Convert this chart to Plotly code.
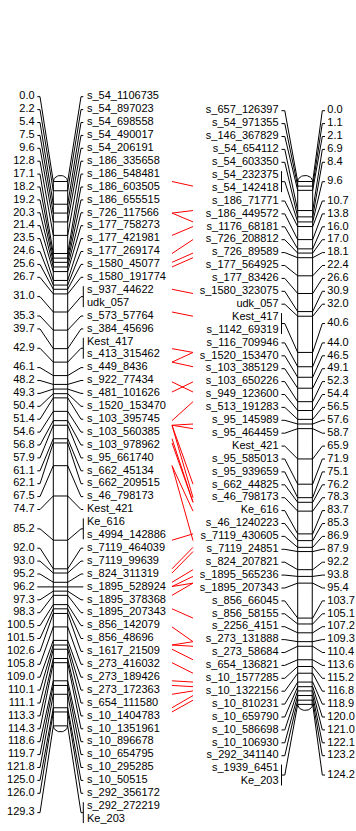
import math
import plotly.graph_objects as go

# ---- linkage group A (drawn on the left) ----
left_pos = [0.0, 2.2, 5.4, 7.5, 9.6, 12.8, 17.1, 18.2, 19.2, 20.3, 21.4, 23.5, 24.6,
            25.6, 26.7, 31.0, 35.3, 39.7, 42.9, 46.1, 48.2, 49.3, 50.4, 51.4, 54.6,
            56.8, 57.9, 61.1, 62.1, 67.5, 74.7, 85.2, 92.0, 93.0, 95.2, 96.2, 97.3,
            98.3, 100.5, 101.5, 102.6, 105.8, 109.0, 110.1, 111.1, 113.3, 114.3,
            118.6, 119.7, 121.8, 125.0, 126.0, 129.3]
left_markers = [
    ["s_54_1106735"], ["s_54_897023"], ["s_54_698558"], ["s_54_490017"],
    ["s_54_206191"], ["s_186_335658"], ["s_186_548481"], ["s_186_603505"],
    ["s_186_655515"], ["s_726_117566"], ["s_177_758273"], ["s_177_421981"],
    ["s_177_269174"], ["s_1580_45077"], ["s_1580_191774"],
    ["s_937_44622", "udk_057"], ["s_573_57764"], ["s_384_45696"],
    ["Kest_417", "s_413_315462"], ["s_449_8436"], ["s_922_77434"],
    ["s_481_101626"], ["s_1520_153470"], ["s_103_395745"], ["s_103_560385"],
    ["s_103_978962"], ["s_95_661740"], ["s_662_45134"], ["s_662_209515"],
    ["s_46_798173"], ["Kest_421"], ["Ke_616", "s_4994_142886"],
    ["s_7119_464039"], ["s_7119_99639"], ["s_824_311319"], ["s_1895_528924"],
    ["s_1895_378368"], ["s_1895_207343"], ["s_856_142079"], ["s_856_48696"],
    ["s_1617_21509"], ["s_273_416032"], ["s_273_189426"], ["s_273_172363"],
    ["s_654_111580"], ["s_10_1404783"], ["s_10_1351961"], ["s_10_896678"],
    ["s_10_654795"], ["s_10_295285"], ["s_10_50515"], ["s_292_356172"],
    ["s_292_272219", "Ke_203"],
]

# ---- linkage group B (drawn on the right) ----
right_pos = [0.0, 1.1, 2.1, 6.9, 8.4, 9.6, 10.7, 13.8, 16.0, 17.0, 18.1, 22.4, 26.6,
             30.9, 32.0, 40.6, 44.0, 46.5, 49.1, 52.3, 54.4, 56.5, 57.6, 58.7, 65.9,
             71.9, 75.1, 76.2, 78.3, 83.7, 85.3, 86.9, 87.9, 92.2, 93.8, 95.4, 103.7,
             105.1, 107.2, 109.3, 110.4, 113.6, 115.2, 116.8, 118.9, 120.0, 121.0,
             122.1, 123.2, 124.2]
right_markers = [
    ["s_657_126397"], ["s_54_971355"], ["s_146_367829"], ["s_54_654112"],
    ["s_54_603350"], ["s_54_232375", "s_54_142418"], ["s_186_71771"],
    ["s_186_449572"], ["s_1176_68181"], ["s_726_208812"], ["s_726_89589"],
    ["s_177_564925"], ["s_177_83426"], ["s_1580_323075"], ["udk_057"],
    ["Kest_417", "s_1142_69319"], ["s_116_709946"], ["s_1520_153470"],
    ["s_103_385129"], ["s_103_650226"], ["s_949_123600"], ["s_513_191283"],
    ["s_95_145989"], ["s_95_464459"], ["Kest_421"], ["s_95_585013"],
    ["s_95_939659"], ["s_662_44825"], ["s_46_798173"], ["Ke_616"],
    ["s_46_1240223"], ["s_7119_430605"], ["s_7119_24851"], ["s_824_207821"],
    ["s_1895_565236"], ["s_1895_207343"], ["s_856_66045"], ["s_856_58155"],
    ["s_2256_4151"], ["s_273_131888"], ["s_273_58684"], ["s_654_136821"],
    ["s_10_1577285"], ["s_10_1322156"], ["s_10_810231"], ["s_10_659790"],
    ["s_10_586698"], ["s_10_106930"], ["s_292_341140"],
    ["s_1939_6451", "Ke_203"],
]

# ---- homology links between the two groups (cM on A, cM on B) ----
link_left_cm = [0.0, 7.5, 7.5, 12.8, 17.1, 19.2, 20.3, 25.6, 31.0, 39.7, 42.9, 42.9,
                47.6, 50.0, 56.8, 57.9, 57.9, 57.9, 57.9, 61.1, 62.1, 67.5, 67.5,
                85.2, 92.0, 93.0, 95.2, 96.2, 96.2, 98.3, 101.5, 105.8, 110.1, 110.1,
                111.1, 114.3, 118.6, 119.7, 121.8, 125.0, 126.0]
link_right_cm = [1.1, 6.9, 9.6, 10.7, 13.8, 17.0, 18.1, 26.6, 32.0, 40.6, 40.6, 44.0,
                 50.0, 47.6, 52.3, 57.6, 58.7, 71.9, 75.1, 76.2, 76.2, 78.3, 85.3,
                 83.7, 86.9, 87.9, 92.2, 93.8, 95.4, 95.4, 103.7, 109.3, 109.3, 110.4,
                 113.6, 116.8, 118.9, 120.0, 121.0, 122.1, 123.2]

# ---- page geometry ----
W, H = 356, 831
PX_PER_CM = 4.21        # vertical scale shared by both groups
ZERO_PX = 181.5         # page row of 0 cM
ROW_PX = 12.9           # spacing of stacked labels
CAP_PX = 6.0            # height of the rounded chromosome ends
BRACKET_PX = 4.0

FONT = dict(family="Liberation Sans, Arial, Helvetica, sans-serif", size=11, color="black")


def cm(px):
    """Convert a page row to the cM axis."""
    return (px - ZERO_PX) / PX_PER_CM


def label_rows(markers, first_px):
    rows, k = [], 0
    for names in markers:
        rows.append([cm(first_px + (k + j) * ROW_PX) for j in range(len(names))])
        k += len(names)
    return rows


def chrom_outline(x0, x1, top, bot):
    xc, hw, cap = (x0 + x1) / 2, (x1 - x0) / 2, CAP_PX / PX_PER_CM
    xs, ys = [], []
    n = 24
    for i in range(n + 1):
        t = math.pi - math.pi * i / n
        xs.append(xc + hw * math.cos(t))
        ys.append(top - cap * math.sin(t))
    for i in range(n + 1):
        t = math.pi * i / n
        xs.append(xc + hw * math.cos(t))
        ys.append(bot + cap * math.sin(t))
    xs.append(xs[0])
    ys.append(ys[0])
    return xs, ys


fig = go.Figure()


def draw_group(pos, markers, first_px, x0, x1, names_on_right, sides):
    """sides: text x, outer tick x and inner tick x for the 'pos' and 'name' sides."""
    rows = label_rows(markers, first_px)
    cx, cy = chrom_outline(x0, x1, 0.0, pos[-1])
    fig.add_trace(go.Scatter(x=cx, y=cy, mode="lines", fill="toself", fillcolor="white",
                             line=dict(color="black", width=1), hoverinfo="skip"))
    lx, ly = [], []
    ps, ns = sides["pos"], sides["name"]
    left_side = ps if names_on_right else ns
    right_side = ns if names_on_right else ps
    for p, r in zip(pos, rows):
        m = sum(r) / len(r)
        lx += [left_side["outer"], left_side["inner"], x0, x1,
               right_side["inner"], right_side["outer"], None]
        ly += [m, m, p, p, m, m, None]
        if len(r) > 1:
            b = BRACKET_PX / PX_PER_CM
            lx += [ns["outer"], ns["outer"], None]
            ly += [r[0] - b, r[-1] + b, None]
    fig.add_trace(go.Scatter(x=lx, y=ly, mode="lines", line=dict(color="black", width=1),
                             hoverinfo="skip"))
    # cM labels
    fig.add_trace(go.Scatter(
        x=[ps["text"]] * len(pos), y=[sum(r) / len(r) for r in rows],
        text=[f"{p:.1f}" for p in pos], mode="text",
        textposition="middle left" if names_on_right else "middle right",
        textfont=FONT, hoverinfo="skip"))
    # marker names
    nx, ny, nt = [], [], []
    for names, r in zip(markers, rows):
        for nm, y in zip(names, r):
            nx.append(ns["text"])
            ny.append(y)
            nt.append(nm)
    fig.add_trace(go.Scatter(
        x=nx, y=ny, text=nt, mode="text",
        textposition="middle right" if names_on_right else "middle left",
        textfont=FONT, hoverinfo="skip"))


# group A: cM on the left, names on the right
draw_group(left_pos, left_markers, 96.7, 53.3, 67.7, True,
           {"pos": dict(text=34.6, outer=37.3, inner=40.0),
            "name": dict(text=87.0, outer=83.3, inner=81.0)})
# group B: names on the left, cM on the right
draw_group(right_pos, right_markers, 110.7, 297.7, 312.7, False,
           {"pos": dict(text=327.3, outer=325.0, inner=322.3),
            "name": dict(text=278.6, outer=281.5, inner=284.8)})

# homology links
hx, hy = [], []
for a, b in zip(link_left_cm, link_right_cm):
    hx += [172.0, 193.0, None]
    hy += [a, b, None]
fig.add_trace(go.Scatter(x=hx, y=hy, mode="lines", line=dict(color="#ff0000", width=1),
                         hoverinfo="skip"))

fig.update_layout(
    width=W, height=H, margin=dict(l=0, r=0, t=0, b=0),
    paper_bgcolor="white", plot_bgcolor="white", showlegend=False,
    xaxis=dict(range=[0, W], visible=False, fixedrange=True),
    yaxis=dict(range=[cm(H), cm(0)], visible=False, fixedrange=True),
)
fig.write_html("out.html", config={"displayModeBar": False, "staticPlot": True})
